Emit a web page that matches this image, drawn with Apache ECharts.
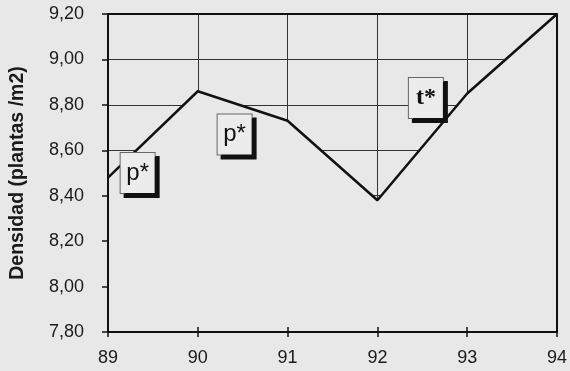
<!DOCTYPE html>
<html>
<head>
<meta charset="utf-8">
<script src="https://cdn.jsdelivr.net/npm/echarts@6/dist/echarts.min.js"></script>
<style>
  html, body { margin: 0; padding: 0; background: #e8e8e8; }
  #chart { width: 570px; height: 371px; }
</style>
</head>
<body>
<div id="chart"></div>
<script>
// Plant density per season
const years = [89, 90, 91, 92, 93, 94];
const density = [8.48, 8.86, 8.73, 8.38, 8.85, 9.20];

// Significance tags placed on the plot
const tagTexts = ['p*', 'p*', 't*'];
const tagYears = [89.33, 90.41, 92.54];
const tagValues = [8.50, 8.67, 8.83];

const yTicks = { min: 7.8, max: 9.2, step: 0.2 };
const xTicks = { min: 89, max: 94, step: 1 };

const bg = '#e8e8e8';
const font = 'Arial, "Liberation Sans", sans-serif';
const serif = '"Liberation Serif", "Times New Roman", serif';
const fmtY = v => v.toFixed(2).replace('.', ',');

const chart = echarts.init(document.getElementById('chart'));

const baseX = { type: 'value', min: xTicks.min, max: xTicks.max, interval: xTicks.step };
const baseY = { type: 'value', min: yTicks.min, max: yTicks.max, interval: yTicks.step };
const hidden = { axisLine: { show: false }, axisTick: { show: false }, axisLabel: { show: false }, splitLine: { show: false } };
const frameLine = { show: true, onZero: false, lineStyle: { color: '#111', width: 2 } };

chart.setOption({
  backgroundColor: bg,
  animation: false,
  grid: { left: 108, right: 12, top: 14, bottom: 39 },
  xAxis: [
    // grid lines, drawn beneath the filled line
    Object.assign({}, baseX, hidden, { z: 0, splitLine: { show: true, lineStyle: { color: '#333', width: 1 } } }),
    // inner half of the crossing ticks
    Object.assign({}, baseX, hidden, {
      z: 10, position: 'bottom',
      axisTick: { show: true, inside: true, length: 5, lineStyle: { color: '#111', width: 1.5 } }
    }),
    // bottom axis with ticks and labels
    Object.assign({}, baseX, hidden, {
      z: 10, position: 'bottom',
      axisLine: frameLine,
      axisTick: { show: true, length: 5, lineStyle: { color: '#111', width: 1.5 } },
      axisLabel: { show: true, margin: 17, fontSize: 18, color: '#1a1a1a', fontFamily: font }
    }),
    // top frame
    Object.assign({}, baseX, hidden, { z: 10, position: 'top', axisLine: frameLine })
  ],
  yAxis: [
    Object.assign({}, baseY, hidden, { z: 0, splitLine: { show: true, lineStyle: { color: '#333', width: 1 } } }),
    Object.assign({}, baseY, hidden, {
      z: 10, position: 'left',
      name: 'Densidad (plantas /m2)', nameLocation: 'middle', nameGap: 80,
      nameTextStyle: { fontSize: 19.5, fontWeight: 'bold', color: '#1a1a1a', fontFamily: font },
      axisLine: frameLine,
      axisTick: { show: true, length: 6, lineStyle: { color: '#111', width: 1.5 } },
      axisLabel: { show: true, margin: 24, fontSize: 18, color: '#1a1a1a', fontFamily: font, formatter: fmtY }
    }),
    Object.assign({}, baseY, hidden, { z: 10, position: 'right', axisLine: frameLine })
  ],
  series: [{
    type: 'line',
    xAxisIndex: 0,
    yAxisIndex: 0,
    z: 2,
    data: years.map((y, i) => [y, density[i]]),
    symbol: 'none',
    lineStyle: { color: '#111', width: 2.5 },
    areaStyle: { color: bg, opacity: 1 },
    markPoint: {
      symbol: 'circle',
      symbolSize: 0,
      silent: true,
      label: {
        show: true, position: 'inside',
        width: 34, height: 40, lineHeight: 40, align: 'center', verticalAlign: 'middle',
        fontSize: 24, color: '#111', fontFamily: font,
        backgroundColor: '#ececec', borderColor: '#666', borderWidth: 1,
        shadowColor: '#111', shadowBlur: 0, shadowOffsetX: 4, shadowOffsetY: 4
      },
      data: tagTexts.map((t, i) => ({
        coord: [tagYears[i], tagValues[i]],
        value: t,
        label: i === 2 ? { formatter: t, fontFamily: serif, fontWeight: 'bold', fontSize: 24 } : { formatter: t }
      }))
    }
  }]
});
</script>
</body>
</html>
